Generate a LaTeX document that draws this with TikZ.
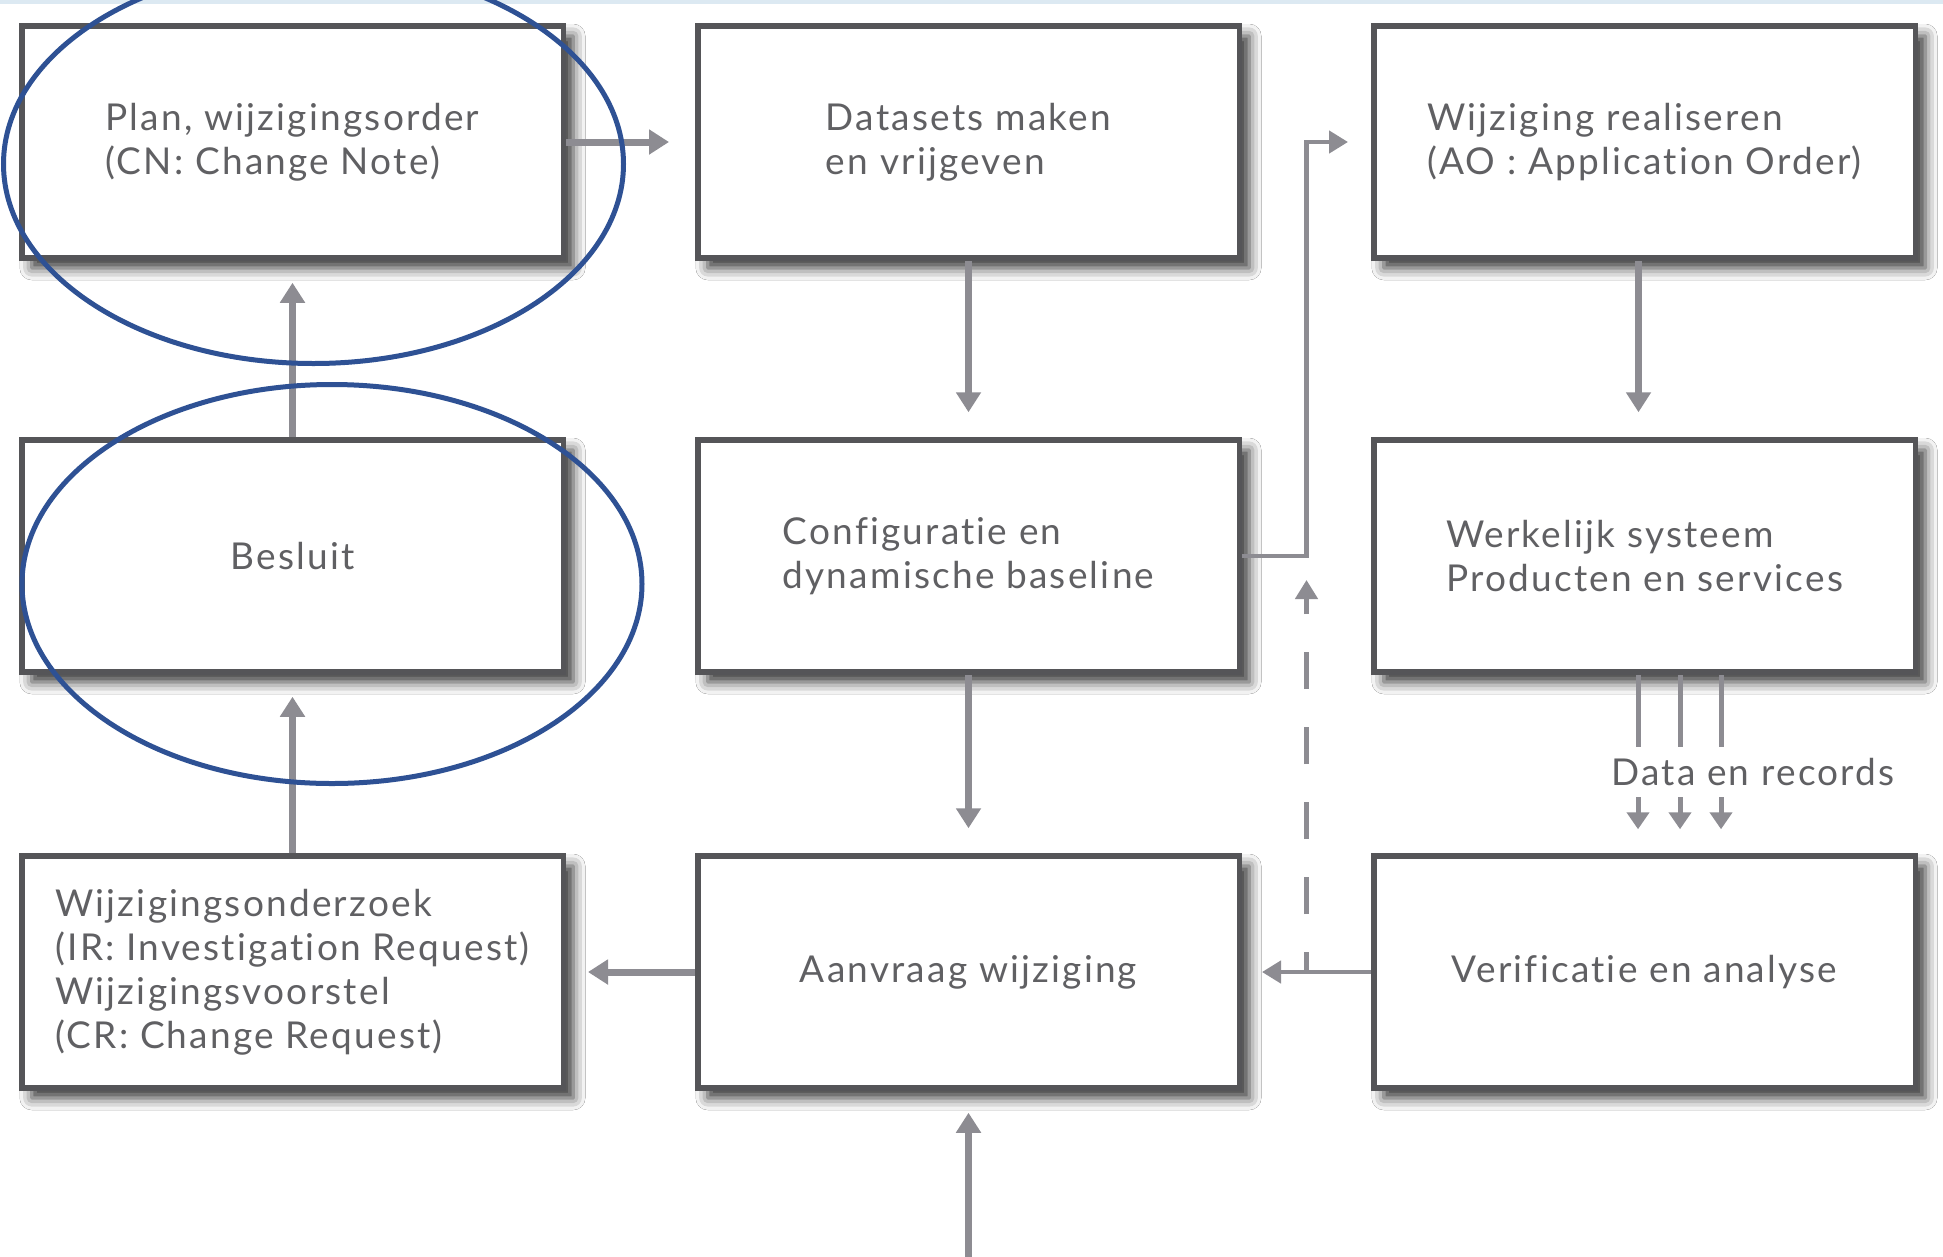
\documentclass[tikz,border=0pt]{standalone}
\usepackage{fontspec}
\setmainfont{Lato}[LetterSpace=6, RawFeature={-liga;-dlig;-clig}]
\usetikzlibrary{arrows.meta,shadows.blur,calc}
\definecolor{boxc}{HTML}{555558}
\definecolor{arrc}{HTML}{8D8C92}
\definecolor{textc}{HTML}{606063}
\definecolor{ellc}{HTML}{2E5194}
\definecolor{topc}{HTML}{DCE9F2}
\begin{document}
\begin{tikzpicture}[x=1pt,y=-1pt,
  stepbox/.style={draw=boxc, line width=5.5pt, fill=white, minimum width=541.5pt,
    minimum height=232pt, align=left, text=textc, inner sep=0pt,
    font=\fontsize{37}{44}\selectfont,
    blur shadow={shadow xshift=10pt, shadow yshift=-10pt, shadow blur radius=12pt, shadow opacity=80}},
  arr/.style={draw=arrc, line width=7pt, -{Triangle[width=24pt,length=20pt]}},
  thinarr/.style={draw=arrc, line width=4.5pt, -{Triangle[width=22pt,length=19pt]}},
  dataline/.style={draw=arrc, line width=5pt},
  dataarr/.style={draw=arrc, line width=5pt, -{Triangle[width=22pt,length=17pt]}},
  ell/.style={draw=ellc, line width=5pt}]
\clip (0,0) rectangle (1943,1256);
\fill[white] (0,0) rectangle (1943,1256);
\fill[topc] (0,0) rectangle (1943,4);

% boxes
\node[stepbox] (A1) at (292.5,142) {Plan, wijzigingsorder\\(CN: Change Note)};
\node[stepbox] (A2) at (968.5,142) {Datasets maken\\en vrijgeven};
\node[stepbox] (A3) at (1644.5,142) {Wijziging realiseren\\(AO : Application Order)};
\node[stepbox] (B1) at (292.5,556) {Besluit};
\node[stepbox] (B2) at (968.5,556) {Configuratie en\\dynamische baseline};
\node[stepbox] (B3) at (1644.5,556) {Werkelijk systeem\\Producten en services};
\node[stepbox] (C1) at (292.5,972) {Wijzigingsonderzoek\\(IR: Investigation Request)\\Wijzigingsvoorstel\\(CR: Change Request)};
\node[stepbox] (C2) at (968.5,972) {Aanvraag wijziging};
\node[stepbox] (C3) at (1644.5,972) {Verificatie en analyse};

% connectors
\draw[arr, shorten >=26pt] (A1.east) -- (A2.west);
\draw[arr, shorten >=25pt] (A2.south) -- (B2.north);
\draw[arr, shorten >=25pt] ([xshift=-6pt]A3.south) -- ([xshift=-6pt]B3.north);
\draw[arr, shorten >=25pt] (B2.south) -- (C2.north);
\draw[arr, shorten >=22pt] (B1.north) -- (A1.south);
\draw[arr, shorten >=22pt] (C1.north) -- (B1.south);
\draw[arr, shorten >=22pt] (C2.west) -- (C1.east);
\draw[thinarr, shorten >=20pt] (C3.west) -- (C2.east);

\coordinate (gapx) at ($(B2.east)!0.5!(B3.west)$);
\draw[thinarr, shorten >=23pt] (B2.east) -| (gapx |- A3.west) -- (A3.west);
\draw[thinarr, dash pattern=on 37pt off 38pt, dash phase=17pt, shorten >=24pt]
  (gapx |- C3.west) -- (gapx |- B2.east);

% data and records
\coordinate (d1) at (1638,747);
\coordinate (d2) at (1680,747);
\coordinate (d3) at (1721,747);
\coordinate (e1) at (1638,797);
\coordinate (e2) at (1680,797);
\coordinate (e3) at (1721,797);
\draw[dataline] (B3.south -| d1) -- (d1);
\draw[dataline] (B3.south -| d2) -- (d2);
\draw[dataline] (B3.south -| d3) -- (d3);
\node[text=textc, font=\fontsize{37}{44}\selectfont, inner sep=0pt] (data) at (1753,772) {Data en records};
\draw[dataarr, shorten >=24pt] (e1) -- (C3.north -| e1);
\draw[dataarr, shorten >=24pt] (e2) -- (C3.north -| e2);
\draw[dataarr, shorten >=24pt] (e3) -- (C3.north -| e3);

% incoming from bottom
\coordinate (inb) at (968.5,1260);
\draw[arr, shorten >=22pt] (inb) -- (C2.south);

% annotation ellipses
\draw[ell] (313.5,164) ellipse [x radius=310, y radius=199.5];
\draw[ell] (332,584) ellipse [x radius=310, y radius=199.5];
\end{tikzpicture}
\end{document}
